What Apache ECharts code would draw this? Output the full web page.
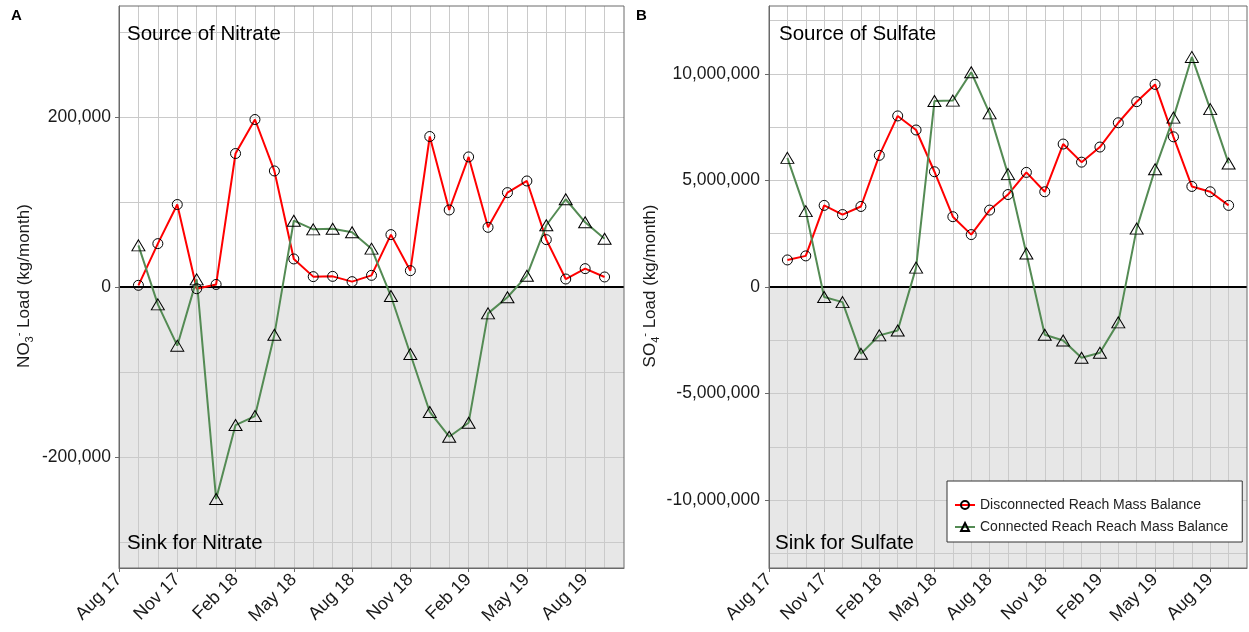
<!DOCTYPE html>
<html><head><meta charset="utf-8">
<script src="https://cdn.jsdelivr.net/npm/echarts@6/dist/echarts.min.js"></script>
<style>html,body{margin:0;padding:0;background:#fff}#c{width:1249px;height:632px}</style>
</head><body><div id="c"></div>
<script>
// ---- data ----
const months = ['2017-09','2017-10','2017-11','2017-12','2018-01','2018-02','2018-03','2018-04','2018-05','2018-06','2018-07','2018-08','2018-09','2018-10','2018-11','2018-12','2019-01','2019-02','2019-03','2019-04','2019-05','2019-06','2019-07','2019-08','2019-09'];
const tickLabels = ['Aug 17','Nov 17','Feb 18','May 18','Aug 18','Nov 18','Feb 19','May 19','Aug 19'];
const tickMonths = ['2017-08','2017-11','2018-02','2018-05','2018-08','2018-11','2019-02','2019-05','2019-08'];
const axisEndMonths = ['2017-08','2019-10'];

const no3Disconnected = [2000, 51000, 97000, -2000, 3000, 157000, 197000, 136500, 33000, 12200, 12500, 6300, 13700, 61600, 19200, 177000, 90600, 153000, 70200, 111000, 124700, 55700, 9400, 21600, 11800];
const no3Connected = [49000, -20400, -69000, 9000, -249400, -162400, -151800, -56100, 78000, 67800, 68600, 64300, 45100, -10600, -78800, -147000, -176100, -159600, -31000, -12100, 13300, 72600, 103200, 76100, 56800];
const so4Disconnected = [1270000, 1460000, 3830000, 3400000, 3780000, 6180000, 8030000, 7370000, 5410000, 3300000, 2460000, 3610000, 4340000, 5380000, 4470000, 6710000, 5860000, 6570000, 7710000, 8700000, 9510000, 7050000, 4720000, 4470000, 3830000];
const so4Connected = [6060000, 3560000, -470000, -710000, -3130000, -2270000, -2040000, 910000, 8730000, 8750000, 10080000, 8150000, 5300000, 1570000, -2240000, -2510000, -3320000, -3090000, -1660000, 2740000, 5530000, 7950000, 10800000, 8350000, 5800000];

const no3Ticks = [-200000, 0, 200000];
const no3GridValues = [-300000, -200000, -100000, 100000, 200000, 300000];
const no3Range = [-330500, 330500];
const so4Ticks = [-10000000, -5000000, 0, 5000000, 10000000];
const so4GridValues = [-12500000, -10000000, -7500000, -5000000, -2500000, 2500000, 5000000, 7500000, 10000000, 12500000];
const so4Range = [-13190000, 13190000];

const seriesNames = ['Disconnected Reach Mass Balance', 'Connected Reach Reach Mass Balance'];

// ---- helpers ----
function mIdx(s) { const p = s.split('-'); return (+p[0] - 2017) * 12 + (+p[1] - 8); }
const xs = months.map(mIdx);
const xTicks = tickMonths.map(mIdx);
const xMin = mIdx(axisEndMonths[0]), xMax = mIdx(axisEndMonths[1]);
const FONT = "'Liberation Sans', Arial, sans-serif";
const RED = '#ff0000', GREEN = '#548B54';
const GRIDC = '#cacaca';

const fmt = v => Number(v).toLocaleString('en-US');

function xAxisDef(gi) {
  return {
    type: 'value', gridIndex: gi, min: xMin, max: xMax, z: 4,
    splitLine: { show: false },
    axisLine: { show: true, onZero: false, lineStyle: { color: '#6a6a6a', width: 1 } },
    axisTick: { show: true, length: 4, customValues: xTicks, lineStyle: { color: '#6a6a6a' } },
    axisLabel: { customValues: xTicks, rotate: 45, margin: 9, fontSize: 18, fontFamily: FONT, color: '#1a1a1a',
      formatter: v => { const i = xTicks.indexOf(v); return i >= 0 ? tickLabels[i] : ''; } }
  };
}
function yAxisDef(gi, range, ticks, margin) {
  return {
    type: 'value', gridIndex: gi, min: range[0], max: range[1], z: 4,
    splitLine: { show: false },
    axisLine: { show: true, onZero: false, lineStyle: { color: '#6a6a6a', width: 1 } },
    axisTick: { show: true, length: 4, customValues: ticks, lineStyle: { color: '#6a6a6a' } },
    axisLabel: { customValues: ticks, margin: margin, fontSize: 17.5, fontFamily: FONT, color: '#1a1a1a', formatter: fmt }
  };
}
function panelSeries(gi, range, gridValues, red, green) {
  const ax = { xAxisIndex: gi, yAxisIndex: gi };
  const gl = { color: GRIDC, width: 1, type: 'solid' };
  return [
    Object.assign({ type: 'line', data: [], silent: true, z: 1,
      markArea: { silent: true, z: 1, itemStyle: { color: '#e7e7e7' }, data: [[{ yAxis: range[0] }, { yAxis: 0 }]] } }, ax),
    Object.assign({ type: 'line', data: [], silent: true, z: 1,
      markLine: { silent: true, z: 1, symbol: ['none', 'none'], label: { show: false }, lineStyle: gl, animation: false,
        data: gridValues.map(v => ({ yAxis: v })).concat(xs.map(v => ({ xAxis: v }))) } }, ax),
    Object.assign({ type: 'line', data: [], silent: true, z: 2,
      markLine: { silent: true, z: 2, symbol: ['none', 'none'], label: { show: false },
        lineStyle: { color: '#000', width: 2, type: 'solid' }, data: [{ yAxis: 0 }] } }, ax),
    Object.assign({ name: seriesNames[0], type: 'line', z: 3, data: xs.map((x, i) => [x, red[i]]),
      symbol: 'circle', symbolSize: 10, showAllSymbol: true,
      lineStyle: { color: RED, width: 2 },
      itemStyle: { color: 'rgba(0,0,0,0)', borderColor: '#000', borderWidth: 1 } }, ax),
    Object.assign({ name: seriesNames[1], type: 'line', z: 3, data: xs.map((x, i) => [x, green[i]]),
      symbol: 'triangle', symbolSize: [13, 11], showAllSymbol: true,
      lineStyle: { color: GREEN, width: 2 },
      itemStyle: { color: 'rgba(0,0,0,0)', borderColor: '#000', borderWidth: 1 } }, ax)
  ];
}

function txt(x, y, text, size, extra) {
  return { type: 'text', x: x, y: y, z: 10,
    style: Object.assign({ text: text, fontSize: size, fontFamily: FONT, fill: '#000', align: 'left', verticalAlign: 'middle' }, extra || {}) };
}
function yTitle(x, y, base, sub) {
  return { type: 'text', x: x, y: y, rotation: Math.PI / 2, z: 10,
    style: { text: base + '{sub|' + sub + '}{sup|-}{n| Load (kg/month)}', fontSize: 17, fontFamily: FONT, fill: '#1a1a1a',
      align: 'center', verticalAlign: 'middle', lineHeight: 22,
      rich: {
        sub: { fontSize: 11, fontFamily: FONT, fill: '#1a1a1a', verticalAlign: 'bottom', lineHeight: 22 },
        sup: { fontSize: 11, fontFamily: FONT, fill: '#1a1a1a', verticalAlign: 'top', lineHeight: 22 },
        n: { fontSize: 17, fontFamily: FONT, fill: '#1a1a1a', lineHeight: 22 }
      } } };
}

const chart = echarts.init(document.getElementById('c'), null, { renderer: 'canvas' });
chart.setOption({
  animation: false,
  backgroundColor: '#fff',
  grid: [
    { left: 119, top: 6, width: 505, height: 562, show: true, borderColor: '#6a6a6a', borderWidth: 1, backgroundColor: 'transparent', z: 4 },
    { left: 769, top: 6, width: 478, height: 562, show: true, borderColor: '#6a6a6a', borderWidth: 1, backgroundColor: 'transparent', z: 4 }
  ],
  xAxis: [xAxisDef(0), xAxisDef(1)],
  yAxis: [yAxisDef(0, no3Range, no3Ticks, 8), yAxisDef(1, so4Range, so4Ticks, 9)],
  legend: {
    data: seriesNames, orient: 'vertical', left: 947, top: 481,
    padding: [17, 14, 8, 7], itemWidth: 20, itemHeight: 10, itemGap: 8,
    backgroundColor: '#fff', borderColor: '#333', borderWidth: 1, borderRadius: 0,
    textStyle: { fontSize: 14, fontFamily: FONT, color: '#222' }
  },
  series: panelSeries(0, no3Range, no3GridValues, no3Disconnected, no3Connected)
    .concat(panelSeries(1, so4Range, so4GridValues, so4Disconnected, so4Connected)),
  graphic: [
    txt(11, 16, 'A', 15, { fontWeight: 'bold' }),
    txt(636, 16, 'B', 15, { fontWeight: 'bold' }),
    txt(127, 34, 'Source of Nitrate', 20.5),
    txt(127, 543, 'Sink for Nitrate', 20.5),
    txt(779, 34, 'Source of Sulfate', 20.5),
    txt(775, 543, 'Sink for Sulfate', 20.5),
    yTitle(24, 286, 'NO', '3'),
    yTitle(650, 286, 'SO', '4')
  ]
});
</script></body></html>
